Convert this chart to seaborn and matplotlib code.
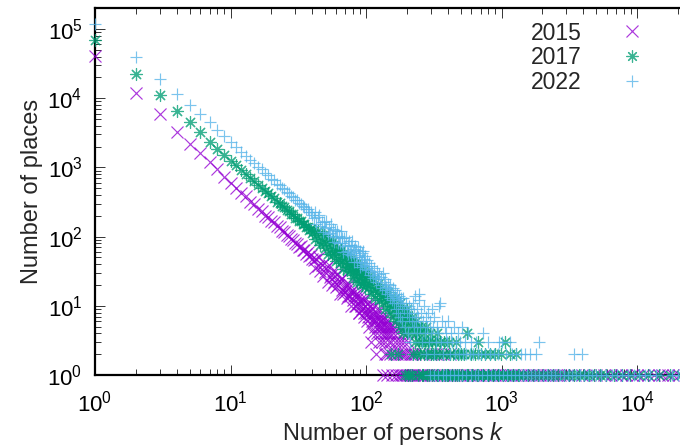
import matplotlib
matplotlib.use("Agg")
import matplotlib.pyplot as plt
from matplotlib.lines import Line2D
import numpy as np
import pandas as pd
import seaborn as sns

# ---------------- data ----------------
years = ["2015", "2017", "2022"]
colors = ["#9400D3", "#009E73", "#56B4E9"]

# --- 2015 ---
k15_a = list(range(1, 41))
n15_a = [41000, 12000, 5900, 3300, 2200, 1600, 1200, 940, 720, 600,
         510, 425, 380, 320, 295, 250, 236, 200, 193, 168,
         160, 141, 137, 119, 117, 104, 102, 91, 90, 80,
         79, 71, 72, 63, 65, 57, 59, 52, 54, 47]
k15_b = list(range(41, 101))
n15_b = [46, 35, 48, 37, 50, 32, 39, 27, 41, 31,
         35, 22, 39, 26, 28, 20, 32, 22, 27, 19,
         29, 20, 23, 15, 24, 17, 25, 15, 18, 16,
         21, 13, 18, 14, 21, 14, 16, 10, 17, 12,
         14, 16, 10, 10, 15, 14, 11, 8, 8, 14,
         12, 10, 9, 11, 12, 8, 7, 13, 10, 8]
k15_c = list(range(101, 151)) + [152, 154, 156, 158, 160, 162, 164, 166, 168, 170,
                                 172, 174, 176, 178, 180, 182, 184, 186, 188, 190,
                                 192, 195, 198, 200, 203, 206, 210, 214, 218, 222,
                                 226, 231, 236, 242, 249, 265, 296, 330, 372, 415]
n15_c = [9, 6, 11, 7, 8, 5, 10, 3, 7, 9,
         6, 4, 8, 6, 10, 5, 7, 2, 6, 8,
         4, 7, 5, 9, 3, 6, 5, 7, 4, 6,
         3, 5, 1, 6, 4, 7, 2, 5, 3, 6,
         4, 2, 5, 1, 4, 6, 3, 5, 2, 4,
         5, 3, 1, 4, 2, 5, 3, 1, 4, 2,
         3, 1, 5, 2, 3, 1, 2, 4, 1, 3,
         2, 1, 2, 1, 3, 1, 2, 1, 2, 1,
         1, 2, 1, 1, 1, 2, 2, 2, 2, 2]
k15_ones = [258, 272, 287, 303, 320, 338, 357, 377, 398, 420, 444, 469, 495, 523,
            552, 583, 615, 650, 686, 725, 765, 808, 853, 901, 951, 1004, 1060, 1120,
            1183, 1250, 1320, 1394, 1472, 1555, 1642, 1734, 1831, 1934, 2042, 2157,
            2278, 2405, 2540, 2683, 2833, 3100, 3500, 3900, 4400, 5000, 5700, 6400,
            7000, 7600, 8300, 9100, 10000, 11000, 12100, 13300, 14600, 15200, 16800,
            18500, 20500]

# --- 2017 ---
k17_a = list(range(1, 41))
n17_a = [69000, 22400, 11000, 6600, 4500, 3200, 2350, 1820, 1500, 1250,
         1070, 905, 810, 700, 635, 555, 512, 452, 425, 380,
         358, 321, 307, 276, 268, 241, 236, 211, 209, 188,
         186, 168, 167, 151, 152, 137, 139, 124, 127, 114]
k17_b = list(range(41, 101))
n17_b = [124, 93, 105, 121, 87, 75, 104, 83, 105, 69,
         82, 57, 88, 64, 76, 54, 85, 56, 61, 44,
         68, 48, 59, 42, 65, 45, 51, 34, 56, 41,
         50, 33, 56, 36, 41, 32, 47, 34, 43, 25,
         40, 28, 42, 31, 33, 22, 38, 26, 33, 22,
         38, 26, 28, 20, 32, 22, 29, 19, 31, 21]
k17_c = [101, 103, 105, 107, 109, 111, 113, 115, 117, 119,
         121, 123, 125, 127, 129, 131, 133, 135, 137, 139,
         141, 143, 145, 147, 149, 151, 153, 155, 157, 159,
         161, 163, 165, 167, 169, 171, 173, 175, 177, 179,
         181, 183, 185, 187, 189, 191, 193, 195, 197, 199,
         202, 205, 208, 211, 214, 217, 220, 223, 226, 229,
         232, 235, 238, 241, 244, 247, 250, 254, 258, 262,
         266, 270, 274, 278, 282, 286, 290, 295, 300, 305,
         310, 316, 322, 328, 334, 340, 347, 354, 361, 368,
         376, 384, 392, 400, 410, 420, 430, 441, 452, 464,
         476, 488, 500, 515, 530, 552, 570, 590, 610, 635,
         660, 675, 700, 730, 760, 790, 825, 860, 900, 940,
         985, 1030, 1060, 1100, 1150, 1210, 1280, 1350]
n17_c = [24, 18, 27, 20, 15, 22, 17, 24, 13, 19,
         16, 21, 12, 18, 14, 17, 11, 15, 13, 9,
         14, 12, 16, 10, 13, 8, 2, 10, 7, 11,
         9, 13, 6, 10, 8, 2, 9, 7, 11, 5,
         8, 6, 9, 4, 7, 5, 8, 1, 6, 9,
         4, 7, 5, 1, 6, 4, 7, 2, 5, 3,
         6, 4, 2, 5, 3, 4, 2, 5, 3, 1,
         4, 2, 3, 5, 2, 3, 1, 4, 2, 3,
         2, 1, 3, 2, 4, 1, 2, 3, 1, 2,
         3, 1, 2, 1, 3, 2, 1, 2, 1, 3,
         2, 1, 2, 1, 2, 4, 1, 2, 1, 2,
         1, 3, 2, 1, 2, 1, 2, 1, 2, 1,
         2, 1, 3, 1, 2, 1, 2, 1]
k17_ones = [205, 220, 240, 260, 283, 308, 335, 365, 398, 433, 472, 514, 560, 605,
            665, 725, 795, 865, 937, 1020, 1110, 1215, 1320, 1440, 1570, 1710, 1860,
            2030, 2210, 2410, 2630, 2870, 3130, 3410, 3720, 4060, 4430, 4830, 5300,
            5900, 6700, 7700, 8900, 10300, 12000, 14500, 17500, 21000]

# --- 2022 ---
k22_a = list(range(1, 41))
n22_a = [117000, 39000, 19000, 11500, 7900, 5900, 4460, 3500, 2800, 2300,
         1960, 1660, 1480, 1270, 1160, 1010, 935, 822, 770, 690,
         650, 584, 556, 501, 482, 436, 424, 383, 375, 341,
         333, 304, 300, 273, 271, 248, 247, 225, 226, 206]
k22_b = list(range(41, 101))
n22_b = [184, 225, 150, 189, 208, 142, 161, 116, 165, 131,
         168, 109, 138, 114, 154, 101, 127, 84, 124, 100,
         122, 80, 102, 81, 120, 81, 97, 60, 95, 73,
         99, 62, 76, 56, 86, 60, 76, 54, 86, 58,
         66, 43, 72, 50, 64, 43, 70, 50, 54, 36,
         62, 43, 58, 39, 62, 42, 48, 34, 53, 37]
k22_c = [101, 103, 105, 107, 109, 111, 113, 115, 117, 119,
         121, 123, 125, 127, 129, 131, 133, 135, 137, 139,
         141, 143, 145, 147, 149, 151, 153, 155, 157, 159,
         161, 163, 165, 167, 169, 171, 173, 175, 177, 179,
         181, 183, 185, 188, 191, 194, 197, 200, 203, 206,
         209, 212, 215, 218, 221, 224, 227, 230, 233, 236,
         239, 242, 245, 248, 251, 255, 259, 263, 267, 271,
         275, 279, 283, 287, 291, 295, 300, 305, 310, 315,
         320, 326, 332, 338, 345, 352, 358, 365, 372, 380,
         388, 396, 405, 414, 423, 432, 442, 452, 463, 474,
         485, 497, 510, 523, 537, 551, 566, 581, 597, 614,
         650, 669, 710, 730, 752, 800, 825, 878, 935, 965,
         1000, 1070, 1150, 1190, 1280, 1380, 1500, 1630, 1800, 1900,
         3400, 3900]
n22_c = [46, 33, 41, 28, 38, 31, 25, 35, 27, 22,
         32, 24, 29, 20, 26, 18, 30, 22, 17, 24,
         19, 15, 21, 17, 13, 20, 16, 12, 18, 14,
         11, 17, 13, 9, 15, 12, 8, 14, 11, 7,
         13, 10, 6, 13, 9, 5, 11, 8, 4, 10,
         7, 3, 9, 6, 11, 5, 8, 14, 6, 4,
         9, 7, 12, 15, 5, 8, 3, 6, 10, 4,
         7, 2, 5, 8, 3, 6, 4, 9, 5, 2,
         7, 3, 5, 4, 10, 11, 3, 6, 2, 5,
         4, 3, 6, 2, 4, 3, 5, 2, 3, 4,
         2, 3, 5, 2, 3, 2, 4, 2, 3, 2,
         3, 2, 2, 4, 2, 3, 2, 2, 2, 3,
         3, 2, 3, 2, 2, 2, 2, 2, 2, 3,
         2, 2]
k22_ones = [297, 318, 341, 367, 392, 418, 448, 480, 515, 550, 590, 632, 675, 722,
            775, 830, 890, 950, 1020, 1090, 1170, 1250, 1340, 1440, 1540, 1650, 1770,
            1880, 2030, 2180, 2330, 2500, 2680, 2870, 3070, 3290, 3520, 3770, 4040,
            4330, 4640, 5000, 5400, 5900, 6500, 7100, 7800, 8600, 9500, 10400, 11400,
            12500, 13700, 18000, 20000]

# ---------------- assemble ----------------
series = {
    "2015": (k15_a + k15_b + k15_c + k15_ones,
             n15_a + n15_b + n15_c + [1] * len(k15_ones)),
    "2017": (k17_a + k17_b + k17_c + k17_ones,
             n17_a + n17_b + n17_c + [1] * len(k17_ones)),
    "2022": (k22_a + k22_b + k22_c + k22_ones,
             n22_a + n22_b + n22_c + [1] * len(k22_ones)),
}
frames = []
for y in years:
    ks, ns = series[y]
    assert len(ks) == len(ns), (y, len(ks), len(ns))
    frames.append(pd.DataFrame({"year": y, "k": ks, "n": ns}))
df = pd.concat(frames, ignore_index=True)

# ---------------- style ----------------
sns.set_style("ticks")
plt.rcParams["font.family"] = ["Liberation Sans", "DejaVu Sans"]
plt.rcParams["mathtext.fontset"] = "custom"
plt.rcParams["mathtext.rm"] = "Liberation Sans"
plt.rcParams["mathtext.it"] = "Liberation Sans:italic"

W, H = 680, 447
fig = plt.figure(figsize=(W / 100, H / 100), dpi=100)
ax = fig.add_axes([95 / W, (H - 375) / H, (691 - 95) / W, (375 - 8.2) / H])

markers = {"2015": "x", "2017": (8, 2, 0), "2022": "+"}
for y, c in zip(years, colors):
    sub = df[df["year"] == y]
    sns.scatterplot(data=sub, x="k", y="n", marker=markers[y], color=c,
                    s=75, linewidth=0.85, alpha=0.78, clip_on=False,
                    legend=False, ax=ax, zorder=3)

ax.set_xscale("log")
ax.set_yscale("log")
ax.set_xlim(1, 2.5e4)
ax.set_ylim(1, 2e5)

for sp in ["left", "bottom", "top"]:
    ax.spines[sp].set_linewidth(1.6)
    ax.spines[sp].set_color("black")
ax.spines["right"].set_visible(False)

ax.tick_params(which="both", direction="in", top=True, right=False,
               width=0.7, colors="#333333", labelcolor="black")
ax.tick_params(which="major", length=7.5)
ax.tick_params(which="minor", length=4)
ax.tick_params(axis="x", which="major", labelsize=16, pad=11)
ax.tick_params(axis="y", which="major", labelsize=16, pad=9)

ax.set_xlabel("Number of persons $k$", fontsize=17, labelpad=3)
ax.set_ylabel("Number of places", fontsize=17, labelpad=3)

handles = [Line2D([], [], ls="none", marker=markers[y], color=c, ms=8.6,
                  mew=0.85, alpha=0.78) for y, c in zip(years, colors)]
ax.legend(handles, years, loc="upper left", bbox_to_anchor=(531 / W, 1 - 21.5 / H),
          bbox_transform=fig.transFigure, frameon=False, markerfirst=False,
          fontsize=16.5, handlelength=1.0, handletextpad=1.7, labelspacing=0.07,
          borderpad=0, borderaxespad=0)

fig.savefig("out.png", dpi=100)
